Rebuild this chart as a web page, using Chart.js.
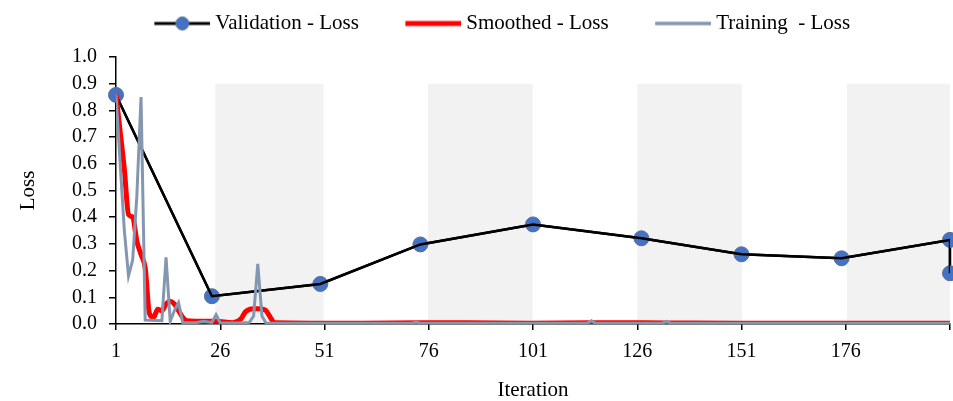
<!DOCTYPE html>
<html><head><meta charset="utf-8">
<script src="https://cdn.jsdelivr.net/npm/chart.js@4.4.1/dist/chart.umd.min.js"></script>
<style>html,body{margin:0;padding:0;background:#fff;} #wrap{width:953px;height:401px;position:relative;}</style>
</head><body><div id="wrap"><canvas id="c"></canvas></div>
<script>
// ---- data ----
const seriesNames = ['Validation - Loss', 'Smoothed - Loss', 'Training  - Loss'];
const valIter = [1, 24, 50, 74, 101, 127, 151, 175, 201, 201];
const valLoss = [0.858, 0.104, 0.150, 0.298, 0.373, 0.321, 0.261, 0.246, 0.315, 0.190];
const smoothIter = [1, 2, 3, 4, 5, 6, 7, 8, 9, 10, 11, 12, 13, 14, 15, 16, 17, 18, 20, 25, 29, 31, 32, 33, 34, 35, 36, 37, 38, 39, 60, 74, 85, 100, 115, 133, 150, 201];
const smoothLoss = [0.86, 0.72, 0.58, 0.41, 0.40, 0.31, 0.26, 0.21, 0.04, 0.025, 0.055, 0.05, 0.075, 0.085, 0.075, 0.05, 0.025, 0.012, 0.01, 0.01, 0.005, 0.02, 0.045, 0.055, 0.057, 0.057, 0.056, 0.05, 0.025, 0.005, 0.003, 0.005, 0.005, 0.003, 0.005, 0.004, 0.003, 0.003];
const trainIter = [1, 2, 3, 4, 5, 6, 7, 8, 12, 13, 14, 15, 16, 17, 20, 22, 24, 25, 26, 30, 33, 34, 35, 36, 37, 60, 72, 73, 74, 100, 114, 115, 116, 132, 133, 134, 201];
const trainLoss = [0.86, 0.60, 0.35, 0.18, 0.24, 0.48, 0.85, 0.015, 0.012, 0.25, 0.01, 0.05, 0.08, 0.005, 0.005, 0.01, 0.006, 0.035, 0.004, 0.004, 0.006, 0.03, 0.225, 0.03, 0.003, 0.003, 0.003, 0.007, 0.003, 0.003, 0.003, 0.012, 0.003, 0.003, 0.01, 0.003, 0.003];
const xTickValues = [1, 26, 51, 76, 101, 126, 151, 176, 201];
const xTickLabels = ['1', '26', '51', '76', '101', '126', '151', '176', ''];
const bandStart = [24.8, 75.8, 126, 176.3];
const bandEnd = [50.8, 100.9, 151.1, 201];
const bandTop = 0.9;

const pts = (xs, ys) => xs.map((x, i) => ({x: x, y: ys[i]}));
const FONT = 'Liberation Serif, Times New Roman, serif';

function legendIcon(color, width, marker) {
  const c = document.createElement('canvas');
  c.width = 100; c.height = 18;
  const g = c.getContext('2d');
  g.strokeStyle = color; g.lineWidth = width; g.lineCap = 'butt';
  g.beginPath(); g.moveTo(44, 9); g.lineTo(100, 9); g.stroke();
  if (marker) {
    g.beginPath(); g.arc(72, 9, 6.5, 0, Math.PI * 2);
    g.fillStyle = '#4472c4'; g.fill();
    g.lineWidth = 1; g.strokeStyle = '#5b6f8f'; g.stroke();
  }
  return c;
}
const icons = [legendIcon('#000', 3, true), legendIcon('#ff0000', 5, false), legendIcon('#8497b0', 3.5, false)];

const bandsPlugin = {
  id: 'bands',
  beforeDraw(chart) {
    const {ctx, scales: {x, y}} = chart;
    ctx.save();
    ctx.fillStyle = '#f2f2f2';
    for (let i = 0; i < bandStart.length; i++) {
      const x0 = x.getPixelForValue(bandStart[i]), x1 = x.getPixelForValue(bandEnd[i]);
      const y0 = y.getPixelForValue(bandTop), y1 = y.getPixelForValue(0);
      ctx.fillRect(x0, y0, x1 - x0, y1 - y0);
    }
    ctx.restore();
  }
};

// adds empty space below the legend row and nudges it right
const legendGapPlugin = {
  id: 'legendGap',
  beforeLayout(chart) {
    const lg = chart.legend;
    if (lg && !lg._gapPatched) {
      const f = lg.fit.bind(lg);
      lg.fit = function () { f(); this.height += 13; };
      lg._gapPatched = true;
    }
  },
  afterLayout(chart) {
    const lg = chart.legend;
    if (lg) { lg.left += 8; lg.right += 8; }
  }
};

new Chart(document.getElementById('c'), {
  type: 'line',
  data: {
    datasets: [
      {label: seriesNames[0], data: pts(valIter, valLoss), borderColor: '#000', borderWidth: 2.5,
       pointRadius: 7.5, pointHoverRadius: 7.5, pointBackgroundColor: '#4472c4', pointBorderColor: '#5b6f8f', pointBorderWidth: 1,
       order: 4, clip: false},
      {label: seriesNames[1], data: pts(smoothIter, smoothLoss), borderColor: '#ff0000', borderWidth: 5,
       pointRadius: 0, cubicInterpolationMode: 'monotone', order: 2},
      {label: seriesNames[2], data: pts(trainIter, trainLoss), borderColor: '#8497b0', borderWidth: 3,
       pointRadius: 0, tension: 0, order: 1},
      {label: '_overlay', data: pts(valIter, valLoss), borderColor: '#000', borderWidth: 2.5,
       pointRadius: 0, order: 3}
    ]
  },
  options: {
    responsive: true, maintainAspectRatio: false, animation: false,
    layout: {autoPadding: false, padding: {top: 5, right: 3, left: 0, bottom: 0}},
    plugins: {
      tooltip: {enabled: false},
      legend: {
        position: 'top',
        labels: {
          usePointStyle: true, pointStyleWidth: 89, padding: 8, color: '#000',
          font: {family: FONT, size: 21},
          filter: (item) => item.datasetIndex < 3,
          sort: (a, b) => a.datasetIndex - b.datasetIndex,
          generateLabels: (chart) => {
            const items = Chart.defaults.plugins.legend.labels.generateLabels(chart);
            items.forEach(it => { if (it.datasetIndex < 3) it.pointStyle = icons[it.datasetIndex]; });
            return items;
          }
        }
      }
    },
    scales: {
      x: {
        type: 'linear', min: 1, max: 201,
        afterBuildTicks: s => { s.ticks = xTickValues.map(v => ({value: v})); },
        afterFit: s => { s.height = 77; s.paddingLeft = 0; s.paddingRight = 0; },
        ticks: {autoSkip: false, maxRotation: 0, color: '#000', padding: 10,
                font: {family: FONT, size: 20},
                callback: (v) => xTickLabels[xTickValues.indexOf(v)]},
        grid: {drawOnChartArea: false, drawTicks: true, tickLength: 6, color: '#000', lineWidth: 1.5},
        border: {display: true, color: '#000', width: 1.5},
        title: {display: true, text: 'Iteration', color: '#000', font: {family: FONT, size: 21, lineHeight: 1.0}, padding: {top: 0, bottom: 0}}
      },
      y: {
        min: 0, max: 1,
        afterFit: s => { s.width = 116; },
        ticks: {stepSize: 0.1, autoSkip: false, color: '#000', padding: 12, font: {family: FONT, size: 20},
                callback: v => v.toFixed(1)},
        grid: {drawOnChartArea: false, drawTicks: true, tickLength: 7, color: '#000', lineWidth: 1.5},
        border: {display: true, color: '#000', width: 1.5},
        title: {display: true, text: 'Loss', color: '#000', font: {family: FONT, size: 21}, padding: {top: 16, bottom: 0}}
      }
    }
  },
  plugins: [bandsPlugin, legendGapPlugin]
});
</script>
</body></html>
